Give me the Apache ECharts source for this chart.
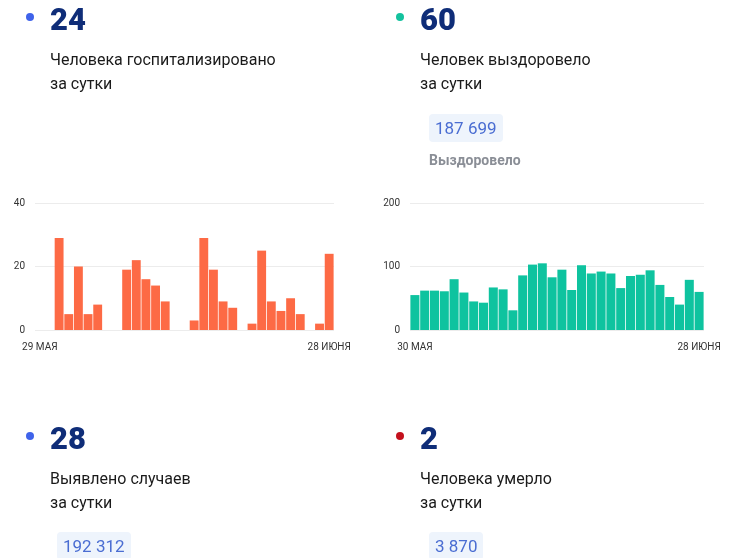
<!DOCTYPE html>
<html>
<head>
<meta charset="utf-8">
<script src="https://cdn.jsdelivr.net/npm/echarts@6/dist/echarts.min.js"></script>
<style>
  html, body { margin: 0; padding: 0; background: #fff; }
  #wrap { position: relative; width: 738px; height: 558px; overflow: hidden; font-family: Roboto, "Noto Sans", sans-serif; }
  #chart { position: absolute; left: 0; top: 0; width: 738px; height: 558px; }
  .t { position: absolute; white-space: nowrap; }
  .dot { position: absolute; width: 8px; height: 8px; border-radius: 50%; }
  .big { font-size: 31px; font-weight: 900; color: #0f2d78; line-height: 1; }
  .desc { font-size: 16px; color: #1a1a1a; line-height: 24px; }
  .box { position: absolute; background: #eef4fc; border-radius: 4px; color: #4a6dd2; font-size: 17px; line-height: 28px; padding: 0 6px; }
  .sub { font-size: 14px; font-weight: bold; color: #8a8e96; }
</style>
</head>
<body>
<div id="wrap">
  <div id="chart"></div>

  <div class="dot" style="left:26px;top:13px;background:#3f63ea;"></div>
  <div class="t big" style="left:50px;top:4px;">24</div>
  <div class="t desc" style="left:50px;top:48px;">Человека госпитализировано<br>за сутки</div>

  <div class="dot" style="left:396px;top:13px;background:#14c29e;"></div>
  <div class="t big" style="left:420px;top:4px;">60</div>
  <div class="t desc" style="left:420px;top:48px;">Человек выздоровело<br>за сутки</div>
  <div class="box" style="left:429px;top:114px;">187 699</div>
  <div class="t sub" style="left:429px;top:152px;">Выздоровело</div>

  <div class="dot" style="left:26px;top:432px;background:#3f63ea;"></div>
  <div class="t big" style="left:50px;top:423px;">28</div>
  <div class="t desc" style="left:50px;top:467px;">Выявлено случаев<br>за сутки</div>
  <div class="box" style="left:57px;top:532px;">192 312</div>

  <div class="dot" style="left:396px;top:432px;background:#c4111d;"></div>
  <div class="t big" style="left:420px;top:423px;">2</div>
  <div class="t desc" style="left:420px;top:467px;">Человека умерло<br>за сутки</div>
  <div class="box" style="left:429px;top:532px;">3 870</div>
</div>
<script>
// Hospitalized per day, 29 May .. 28 June
const hospDates = ['29 МАЯ','30 МАЯ','31 МАЯ','1 ИЮНЯ','2 ИЮНЯ','3 ИЮНЯ','4 ИЮНЯ','5 ИЮНЯ','6 ИЮНЯ','7 ИЮНЯ','8 ИЮНЯ','9 ИЮНЯ','10 ИЮНЯ','11 ИЮНЯ','12 ИЮНЯ','13 ИЮНЯ','14 ИЮНЯ','15 ИЮНЯ','16 ИЮНЯ','17 ИЮНЯ','18 ИЮНЯ','19 ИЮНЯ','20 ИЮНЯ','21 ИЮНЯ','22 ИЮНЯ','23 ИЮНЯ','24 ИЮНЯ','25 ИЮНЯ','26 ИЮНЯ','27 ИЮНЯ','28 ИЮНЯ'];
const hospValues = [0,0,29,5,20,5,8,0,0,19,22,16,14,9,0,0,3,29,19,9,7,0,2,25,9,6,10,5,0,2,24];
// Recovered per day, 30 May .. 28 June
const recDates = ['30 МАЯ','31 МАЯ','1 ИЮНЯ','2 ИЮНЯ','3 ИЮНЯ','4 ИЮНЯ','5 ИЮНЯ','6 ИЮНЯ','7 ИЮНЯ','8 ИЮНЯ','9 ИЮНЯ','10 ИЮНЯ','11 ИЮНЯ','12 ИЮНЯ','13 ИЮНЯ','14 ИЮНЯ','15 ИЮНЯ','16 ИЮНЯ','17 ИЮНЯ','18 ИЮНЯ','19 ИЮНЯ','20 ИЮНЯ','21 ИЮНЯ','22 ИЮНЯ','23 ИЮНЯ','24 ИЮНЯ','25 ИЮНЯ','26 ИЮНЯ','27 ИЮНЯ','28 ИЮНЯ'];
const recValues = [55,62,62,61,80,59,45,43,67,64,31,86,103,105,83,95,63,102,89,92,89,66,85,87,94,71,52,40,79,60];
const hospTicks = { min: 0, max: 40, interval: 20 };
const recTicks = { min: 0, max: 200, interval: 100 };

const chart = echarts.init(document.getElementById('chart'), null, { renderer: 'canvas' });
const labelStyle = { color: '#333', fontSize: 10, fontFamily: 'Roboto, sans-serif' };
function xAxisFor(gridIndex, cats) {
  const n = cats.length;
  return {
    type: 'category', gridIndex, data: cats,
    axisLine: { show: false }, axisTick: { show: false },
    axisLabel: Object.assign({ margin: 12, interval: (i) => i === 0 || i === n - 1 }, labelStyle)
  };
}
function yAxisFor(gridIndex, t) {
  return {
    type: 'value', gridIndex, min: t.min, max: t.max, interval: t.interval,
    axisLine: { show: false }, axisTick: { show: false },
    axisLabel: Object.assign({ margin: 10 }, labelStyle),
    splitLine: { lineStyle: { color: '#ececec', width: 1 } }
  };
}
chart.setOption({
  animation: false,
  grid: [
    { left: 35, top: 203, width: 299, height: 127 },
    { left: 410, top: 203, width: 294, height: 127 }
  ],
  xAxis: [xAxisFor(0, hospDates), xAxisFor(1, recDates)],
  yAxis: [yAxisFor(0, hospTicks), yAxisFor(1, recTicks)],
  series: [
    { type: 'bar', xAxisIndex: 0, yAxisIndex: 0, data: hospValues, barCategoryGap: '8%', itemStyle: { color: '#fd6a45' } },
    { type: 'bar', xAxisIndex: 1, yAxisIndex: 1, data: recValues, barCategoryGap: '8%', itemStyle: { color: '#0ec39f' } }
  ]
});
</script>
</body>
</html>
